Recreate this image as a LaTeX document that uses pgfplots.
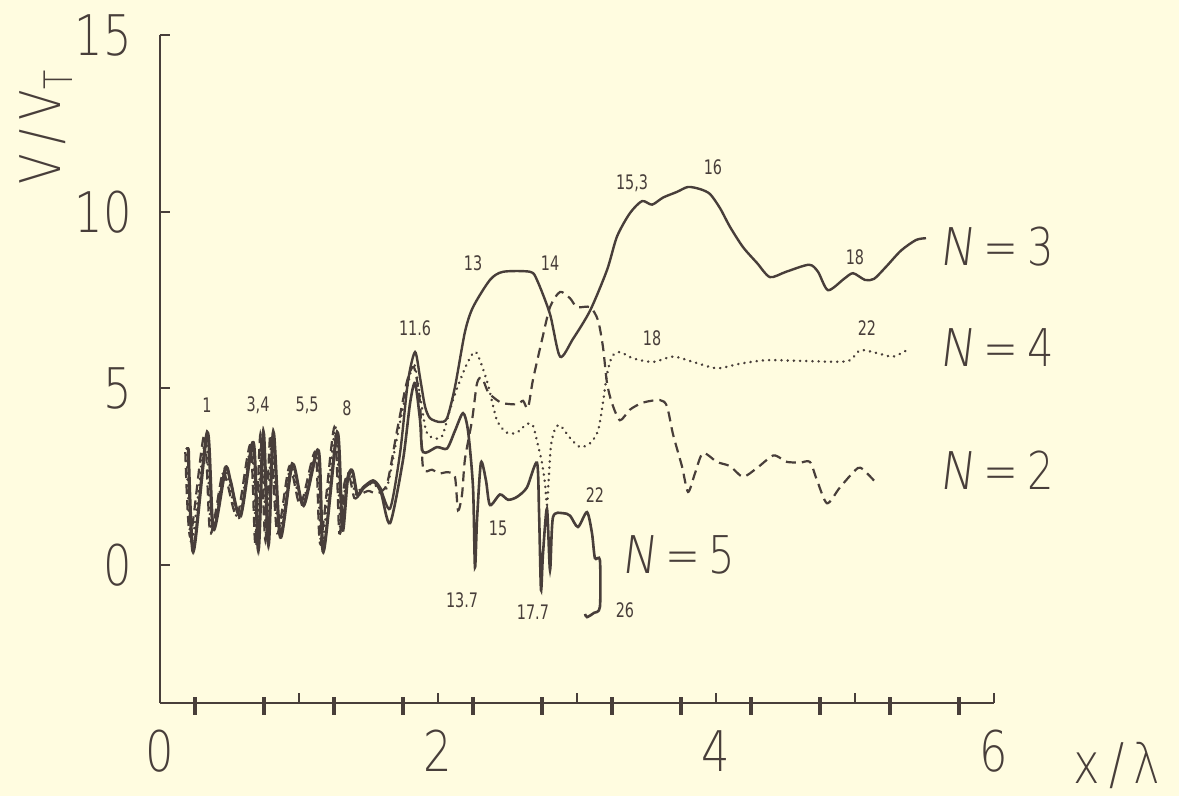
\documentclass[border=0pt]{standalone}
\usepackage{pgfplots}
\pgfplotsset{compat=1.18}
\usepackage{fontspec}
\setmainfont{DejaVu Sans ExtraLight}[FakeStretch=0.8]
\newfontfamily\lblf{DejaVu Sans}[FakeStretch=0.72]
\newfontfamily\Nf{DejaVu Sans ExtraLight}[FakeStretch=0.9, FakeSlant=0.12]
\definecolor{bg}{RGB}{255,252,224}
\definecolor{ink}{RGB}{72,62,58}
\begin{document}
\begin{tikzpicture}
\fill[bg] (-80pt,-46.5pt) rectangle (509.5pt,351.5pt);
\useasboundingbox (-80pt,-46.5pt) rectangle (509.5pt,351.5pt);
\begin{axis}[
  at={(0,0)}, anchor=south west,
  scale only axis, width=417pt, height=334pt,
  xmin=0, xmax=6, ymin=-3.9, ymax=15,
  clip=false,
  axis x line=bottom, axis y line=left,
  axis line style={-, ink, line width=1pt},
  tick align=inside, major tick length=9pt,
  xtick={0.25,0.75,...,5.75}, xticklabels={},
  x tick style={ink, line width=1.8pt, yshift=-6pt},
  extra x ticks={0,1,2,3,4,5,6},
  extra x tick labels={0,,2,,4,,6},
  extra x tick style={major tick length=5pt, x tick style={line width=0.8pt, yshift=6pt}},
  ytick=\empty,
  extra y ticks={0,5,10,15},
  extra y tick labels={0,5,10,15},
  extra y tick style={major tick length=5pt},
  y tick style={ink, line width=1pt},
  ticklabel style={font=\fontsize{28}{30}\selectfont, text=ink, inner sep=0pt},
  xticklabel style={anchor=north, yshift=-13.5pt},
  yticklabel style={anchor=east, xshift=-14pt},
]
% N=2 dashed
\addplot[ink, line width=1.1pt, dash pattern=on 5pt off 3pt, smooth, tension=0.45] coordinates {
(0.182,3.2)(0.218,0.8)(0.319,3.7)(0.362,0.9)(0.449,2.6)(0.485,2.3)(0.557,1.4)(0.650,3.4)(0.686,0.6)(0.722,3.7)(0.758,0.7)(0.794,3.7)(0.844,0.9)(0.931,2.8)(1.010,1.7)(1.118,3.2)(1.154,0.6)(1.254,3.9)(1.290,0.9)(1.326,2.3)(1.362,2.5)(1.398,1.9)(1.441,2.0)(1.50,2.1)(1.561,2.03)(1.633,2.3)(1.705,3.8)(1.777,5.2)(1.827,5.6)(1.871,4.58)(1.892,2.77)(1.957,2.7)(2.014,2.6)(2.072,2.63)(2.122,2.5)(2.144,1.55)(2.173,2.0)(2.194,3.0)(2.245,4.1)(2.281,5.15)(2.317,5.3)(2.360,4.9)(2.424,4.67)(2.468,4.58)(2.568,4.55)(2.612,4.65)(2.647,4.44)(2.683,5.24)(2.748,6.37)(2.806,7.3)(2.878,7.73)(2.950,7.55)(3.000,7.3)(3.094,7.3)(3.151,6.93)(3.187,6.17)(3.216,5.15)(3.252,4.58)(3.309,4.1)(3.381,4.4)(3.475,4.6)(3.597,4.67)(3.647,4.5)(3.691,3.7)(3.755,2.8)(3.799,2.07)(3.849,2.6)(3.906,3.17)(4.007,2.92)(4.101,2.8)(4.194,2.5)(4.295,2.75)(4.410,3.1)(4.475,3.0)(4.511,2.92)(4.604,2.9)(4.676,2.92)(4.727,2.4)(4.799,1.75)(4.892,2.2)(5.022,2.75)(5.086,2.6)(5.158,2.3)
};
% N=4 dotted
\addplot[ink, line width=1.3pt, line cap=round, dash pattern=on 0.1pt off 3pt, smooth, tension=0.45] coordinates {
(0.191,3.3)(0.227,0.6)(0.328,3.6)(0.371,0.9)(0.458,2.7)(0.494,2.4)(0.566,1.3)(0.659,3.4)(0.695,0.55)(0.731,3.6)(0.767,0.7)(0.803,3.6)(0.853,0.9)(0.940,2.8)(1.019,1.7)(1.127,3.2)(1.163,0.5)(1.263,3.9)(1.299,0.9)(1.335,2.4)(1.371,2.6)(1.407,2.0)(1.450,2.2)(1.522,2.3)(1.573,2.2)(1.633,2.2)(1.705,3.6)(1.777,5.0)(1.827,5.7)(1.871,4.8)(1.914,3.8)(1.964,3.6)(2.029,3.65)(2.086,4.4)(2.137,5.0)(2.209,5.7)(2.273,6.03)(2.353,5.2)(2.424,4.1)(2.496,3.75)(2.568,3.75)(2.640,4.0)(2.683,3.95)(2.719,3.4)(2.748,2.9)(2.770,2.3)(2.784,1.7)(2.799,2.6)(2.813,3.4)(2.842,3.85)(2.878,3.96)(2.950,3.6)(3.022,3.34)(3.094,3.45)(3.151,3.8)(3.187,4.6)(3.216,5.4)(3.252,5.9)(3.309,6.03)(3.403,5.85)(3.547,5.75)(3.691,5.9)(3.835,5.75)(4.007,5.57)(4.173,5.7)(4.367,5.8)(4.604,5.78)(4.942,5.77)(5.036,6.08)(5.158,6.0)(5.273,5.9)(5.381,6.1)
};
% N=5 solid
\addplot[ink, line width=1.3pt, smooth, tension=0.45] coordinates {
(0.206,3.3)(0.242,0.4)(0.343,3.75)(0.386,1.0)(0.473,2.72)(0.509,2.38)(0.581,1.38)(0.674,3.46)(0.710,0.45)(0.746,3.75)(0.782,0.58)(0.818,3.75)(0.868,0.78)(0.955,2.86)(1.034,1.68)(1.142,3.24)(1.178,0.4)(1.278,3.75)(1.314,0.98)(1.350,2.38)(1.386,2.66)(1.422,1.98)(1.465,2.18)(1.537,2.35)(1.590,2.05)(1.655,1.19)(1.748,2.97)(1.799,4.58)(1.835,5.15)(1.871,4.1)(1.892,3.2)(1.993,3.34)(2.065,3.3)(2.122,3.8)(2.180,4.3)(2.216,3.8)(2.252,2.2)(2.266,-0.06)(2.281,1.3)(2.309,2.9)(2.345,2.4)(2.374,1.7)(2.446,2.0)(2.504,1.85)(2.568,1.93)(2.640,2.2)(2.712,2.9)(2.727,1.5)(2.741,-0.7)(2.755,0.3)(2.784,1.6)(2.806,-0.14)(2.827,1.35)(2.899,1.47)(2.950,1.4)(3.007,1.08)(3.072,1.5)(3.108,0.9)(3.129,0.2)(3.165,0.14)(3.165,-1.18)(3.122,-1.35)(3.072,-1.47)(3.058,-1.38)
};
% N=3 solid
\addplot[ink, line width=1.2pt, smooth, tension=0.45] coordinates {
(0.201,3.34)(0.237,0.37)(0.338,3.77)(0.381,1.0)(0.468,2.75)(0.504,2.4)(0.576,1.4)(0.669,3.48)(0.705,0.42)(0.741,3.77)(0.777,0.6)(0.813,3.77)(0.863,0.8)(0.950,2.88)(1.029,1.7)(1.137,3.26)(1.173,0.37)(1.273,3.77)(1.309,1.0)(1.345,2.4)(1.381,2.7)(1.417,2.0)(1.460,2.2)(1.532,2.4)(1.583,2.2)(1.655,1.6)(1.727,3.17)(1.784,5.2)(1.835,6.03)(1.871,5.3)(1.906,4.5)(1.942,4.16)(2.014,4.05)(2.065,4.16)(2.122,5.04)(2.194,6.6)(2.252,7.3)(2.374,8.07)(2.468,8.3)(2.662,8.3)(2.712,8.07)(2.806,7.1)(2.878,5.9)(2.971,6.4)(3.094,7.2)(3.216,8.35)(3.288,9.3)(3.381,9.96)(3.468,10.3)(3.540,10.2)(3.619,10.4)(3.719,10.56)(3.799,10.7)(3.885,10.64)(3.957,10.5)(4.029,10.1)(4.101,9.57)(4.194,9.0)(4.295,8.55)(4.388,8.15)(4.504,8.3)(4.669,8.5)(4.734,8.3)(4.806,7.78)(4.921,8.1)(4.986,8.26)(5.072,8.07)(5.137,8.1)(5.223,8.44)(5.331,8.9)(5.439,9.2)(5.511,9.25)
};
% small annotations
\begin{scope}[every node/.style={font=\lblf\fontsize{10}{12}\selectfont, text=ink, inner sep=0pt}]
\node at (axis cs:0.338,4.53) {1};
\node at (axis cs:0.705,4.53) {3,4};
\node at (axis cs:1.058,4.53) {5,5};
\node at (axis cs:1.345,4.44) {8};
\node at (axis cs:1.835,6.71) {11.6};
\node at (axis cs:2.252,8.55) {13};
\node at (axis cs:2.806,8.55) {14};
\node at (axis cs:3.396,10.81) {15,3};
\node at (axis cs:3.978,11.27) {16};
\node at (axis cs:5.0,8.72) {18};
\node at (axis cs:3.54,6.43) {18};
\node at (axis cs:5.086,6.71) {22};
\node at (axis cs:2.432,1.05) {15};
\node at (axis cs:2.173,-0.99) {13.7};
\node at (axis cs:2.683,-1.33) {17.7};
\node at (axis cs:3.129,1.98) {22};
\node at (axis cs:3.345,-1.27) {26};
\end{scope}
% series labels
\begin{scope}[every node/.style={font=\fontsize{26}{28}\selectfont, text=ink, inner sep=0pt}]
\node at (axis cs:6.02,9.0) {{\Nf N}\,=\,3};
\node at (axis cs:6.02,6.15) {{\Nf N}\,=\,4};
\node at (axis cs:6.02,2.69) {{\Nf N}\,=\,2};
\node at (axis cs:3.73,0.28) {{\Nf N}\,=\,5};
\end{scope}
% axis labels
\node[rotate=90, font=\fontsize{28}{30}\selectfont, text=ink, inner sep=0pt] at (axis cs:-0.82,12.4) {V\,/\,V\textsubscript{T}};
\node[font=\fontsize{28}{30}\selectfont, text=ink, inner sep=0pt] at (axis cs:6.885,-5.66) {x\,/\,λ};
\end{axis}
\end{tikzpicture}
\end{document}
